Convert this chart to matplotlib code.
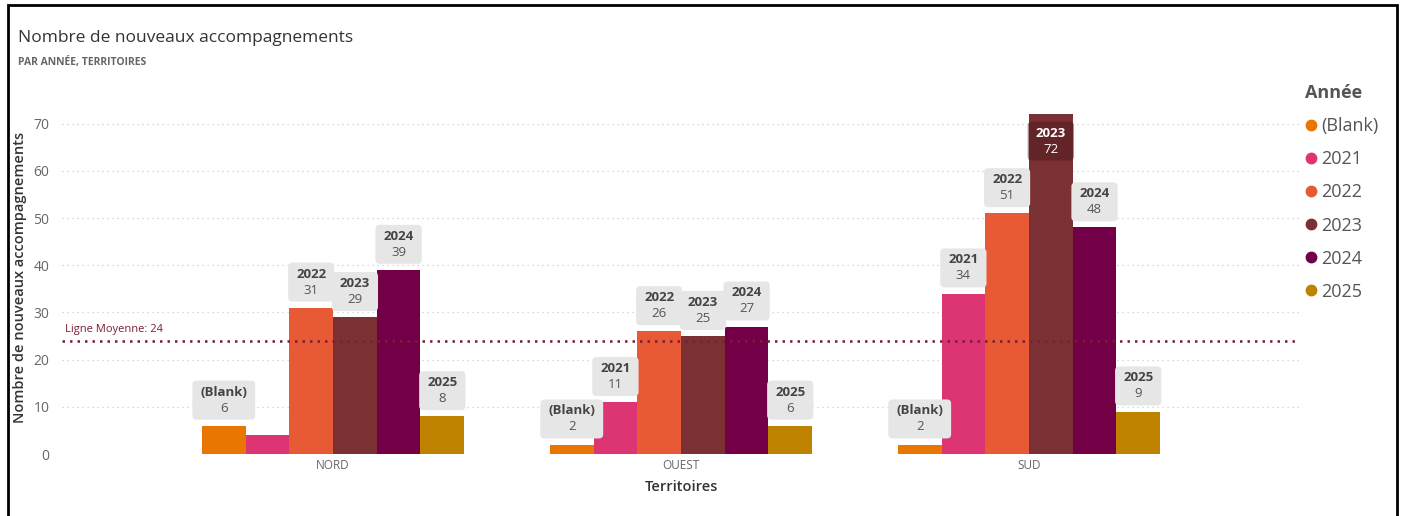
import matplotlib.pyplot as plt
import numpy as np
from matplotlib.lines import Line2D
from matplotlib.patches import Rectangle, FancyBboxPatch
from matplotlib.transforms import Bbox

plt.rcParams['font.family'] = ['Open Sans', 'DejaVu Sans']

territoires = ["NORD", "OUEST", "SUD"]
annees = ["(Blank)", "2021", "2022", "2023", "2024", "2025"]
couleurs = ["#E87600", "#DD3573", "#E85A36", "#7B3033", "#730046", "#BF8200"]
valeurs = {
    "(Blank)": [6, 2, 2],
    "2021": [4, 11, 34],
    "2022": [31, 26, 51],
    "2023": [29, 25, 72],
    "2024": [39, 27, 48],
    "2025": [8, 6, 9],
}
# etiquettes masquees (barre trop petite)
cache = [("2021", 0)]
moyenne = 24

fig = plt.figure(figsize=(14.07, 5.16), dpi=100)
ax = fig.add_axes([62/1407, 62/516, (1300-62)/1407, (454-100)/516])

x = np.arange(len(territoires))
w = 0.1256
ymax = 75

paires = []
for i, an in enumerate(annees):
    pos = x + (i - 2.5) * w
    ax.bar(pos, valeurs[an], width=w, color=couleurs[i], zorder=3)
    for j, v in enumerate(valeurs[an]):
        if (an, j) in cache:
            continue
        if v > ymax - 8:
            o1, o2, va, fc, tc, yc = -9, -20.5, 'top', (0.30, 0.10, 0.12, 0.5), 'white', 'white'
        else:
            o1, o2, va, fc, tc, yc = 19.5, 8, 'bottom', '#e6e6e6', '#555555', '#444444'
        t1 = ax.annotate(an, xy=(pos[j], v), xytext=(0, o1), textcoords='offset points',
                         ha='center', va=va, fontsize=9.5, fontweight='bold', color=yc, zorder=6)
        t2 = ax.annotate(str(v), xy=(pos[j], v), xytext=(0, o2), textcoords='offset points',
                         ha='center', va=va, fontsize=9.5, color=tc, zorder=6)
        paires.append((t1, t2, fc))

ax.axhline(moyenne, color='#7B1E33', linestyle=(0, (1, 2)), linewidth=1.8, zorder=4)
ax.text(-0.77, moyenne + 1.2, f"Ligne Moyenne: {moyenne}", color='#7B1E33',
        fontsize=8, va='bottom', ha='left')

ax.set_xlim(-0.779, 2.779)
ax.set_ylim(0, ymax)
ax.set_yticks(range(0, 71, 10))
ax.set_xticks(x)
ax.set_xticklabels(territoires)
ax.tick_params(length=0, colors='#666666', labelsize=8.5)
ax.tick_params(axis='y', pad=9, labelsize=10)
ax.grid(axis='y', color='#cccccc', linestyle=(0, (1, 3)), linewidth=0.9, zorder=0)
for s in ax.spines.values():
    s.set_visible(False)
ax.set_xlabel("Territoires", fontsize=10.5, color='#333333', fontweight='semibold', labelpad=6)
ax.set_ylabel("Nombre de nouveaux accompagnements", fontsize=10.5, color='#333333',
              fontweight='semibold')
ax.yaxis.set_label_coords(-35/1238, 0.5)

fig.text(18/1407, 1 - 38/516, "Nombre de nouveaux accompagnements", fontsize=12.5,
         color='#333333', va='center')
fig.text(18/1407, 1 - 63/516, "PAR ANNÉE, TERRITOIRES", fontsize=7.5, color='#666666',
         va='center', fontweight='bold')

handles = [Line2D([], [], marker='o', linestyle='none', color=c, markersize=7.5) for c in couleurs]
leg = fig.legend(handles, annees, loc='upper left', bbox_to_anchor=(1289/1407, 1 - 68/516),
                 frameon=False, fontsize=13, handlelength=0.6, handletextpad=0.3,
                 labelspacing=0.835, title="Année", alignment='left')
leg.get_title().set_fontsize(13)
leg.get_title().set_fontweight('bold')
leg.get_title().set_color('#555555')
for t in leg.get_texts():
    t.set_color('#555555')

# fonds arrondis des etiquettes, calcules apres rendu des textes
fig.canvas.draw()
r = fig.canvas.get_renderer()
inv = fig.transFigure.inverted()
for t1, t2, fc in paires:
    bb = Bbox.union([t1.get_window_extent(r), t2.get_window_extent(r)])
    (x0, y0), (x1, y1) = inv.transform([[bb.x0 - 8, bb.y0 - 5], [bb.x1 + 8, bb.y1 + 5]])
    ax.add_patch(FancyBboxPatch((x0, y0), x1 - x0, y1 - y0, transform=fig.transFigure,
                                boxstyle='round,pad=0,rounding_size=0.003', fc=fc, ec='none',
                                zorder=5, clip_on=False, mutation_aspect=1407/516))

fig.patches.append(Rectangle((8/1407, -0.02), (1397-8)/1407, 1.02 - 5/516,
                             transform=fig.transFigure, fill=False, ec='black', lw=2))

fig.savefig("out.png", dpi=100)
